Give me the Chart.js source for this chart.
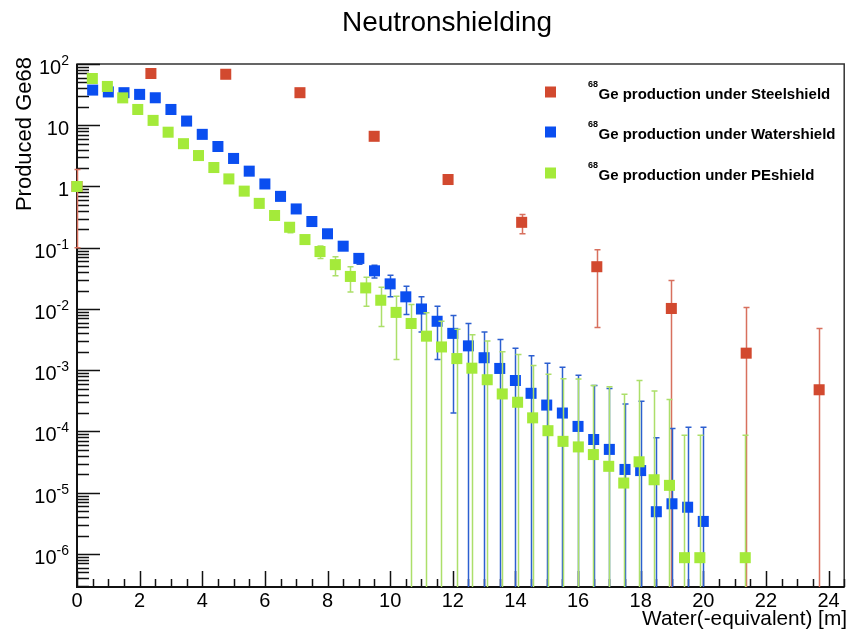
<!DOCTYPE html>
<html>
<head>
<meta charset="utf-8">
<title>Neutronshielding</title>
<script src="https://cdn.jsdelivr.net/npm/chart.js@4.4.1/dist/chart.umd.min.js"></script>
<style>
  html, body { margin: 0; padding: 0; background: #ffffff; }
  #wrap { width: 852px; height: 636px; }
</style>
</head>
<body>
<div id="wrap"><canvas id="chart" width="852" height="636"></canvas></div>
<script>
// ---- Ge-68 production behind the three shield materials ----
const seriesNames = [
  'Ge production under Steelshield',
  'Ge production under Watershield',
  'Ge production under PEshield'
];
const isotopeMass = '68';

// Steel shield
const steelX   = [0, 2.36, 4.75, 7.12, 9.49, 11.85, 14.2, 16.6, 18.98, 21.37, 23.7];
const steelY   = [1, 70, 68, 34, 6.6, 1.3, 0.26, 0.049, 0.0102, 0.0019, 0.00048];
const steelErr = [0.9, 1.5, 1.5, 1.0, 0.4, 0.12, 0.09, 0.044, 0.019, 0.0087, 0.0043];

// Water shield
const waterX = [0.5, 1.0, 1.5, 2.0, 2.5, 3.0, 3.5, 4.0, 4.5, 5.0,
                5.5, 6.0, 6.5, 7.0, 7.5, 8.0, 8.5, 9.0, 9.5, 10.0,
                10.5, 11.0, 11.5, 12.0, 12.5, 13.0, 13.5, 14.0, 14.5, 15.0,
                15.5, 16.0, 16.5, 17.0, 17.5, 18.0, 18.5, 19.0, 19.5, 20.0];
const waterY = [37.5, 35, 34, 31.9, 28.1, 18.1, 11.7, 7.1, 4.5, 2.87,
                1.78, 1.1, 0.69, 0.43, 0.268, 0.169, 0.106, 0.067, 0.042, 0.0257,
                0.0158, 0.0100, 0.0063, 0.0040, 0.0025, 0.0016, 0.00107, 0.00068, 0.00042, 0.00027,
                0.00020, 0.000121, 0.000074, 0.000051, 0.000024, 0.000023, 0.0000049, 0.0000066, 0.0000058, 0.0000034];
const waterErr = [1.0, 1.0, 1.0, 1.0, 0.9, 0.7, 0.5, 0.35, 0.25, 0.17,
                  0.11, 0.07, 0.045, 0.03, 0.02, 0.014, 0.01, 0.013, 0.010, 0.0098,
                  0.0077, 0.0058, 0.0048, 0.0038, 0.0033, 0.0026, 0.0021, 0.0016, 0.0013, 0.00103,
                  0.00092, 0.00071, 0.00049, 0.00045, 0.000256, 0.00029, 0.000074, 0.000105, 0.000111, 0.000114];

// PE shield
const peX = [0, 0.49, 0.97, 1.46, 1.94, 2.43, 2.91, 3.40, 3.88, 4.37,
             4.85, 5.34, 5.82, 6.31, 6.79, 7.28, 7.76, 8.25, 8.73, 9.22,
             9.70, 10.19, 10.67, 11.16, 11.64, 12.13, 12.61, 13.10, 13.58, 14.07,
             14.55, 15.04, 15.52, 16.01, 16.49, 16.98, 17.46, 17.95, 18.43, 18.92,
             19.40, 19.89, 21.34];
const peY = [1.0, 58, 43, 28, 18.1, 12, 7.7, 5.0, 3.2, 2.04,
             1.33, 0.84, 0.53, 0.336, 0.216, 0.136, 0.0867, 0.053, 0.034, 0.0221,
             0.0139, 0.0088, 0.0058, 0.0036, 0.0024, 0.00155, 0.00108, 0.00070, 0.00041, 0.00030,
             0.000167, 0.000103, 0.000069, 0.000056, 0.000042, 0.000027, 0.0000144, 0.000032, 0.0000163, 0.0000132,
             0.00000087, 0.00000087, 0.00000087];
const peErr = [0.05, 1.0, 0.9, 0.7, 0.55, 0.45, 0.35, 0.28, 0.22, 0.17,
               0.13, 0.10, 0.075, 0.055, 0.04, 0.02, 0.02, 0.018, 0.015, 0.011,
               0.0087, 0.0073, 0.006, 0.0051, 0.0039, 0.0031, 0.0027, 0.0023, 0.0016, 0.0015,
               0.00103, 0.00076, 0.00066, 0.00066, 0.00052, 0.00051, 0.00039, 0.00065, 0.00044, 0.00032,
               0.000086, 0.000086, 0.000086];

// Axis ticks and labels
const xTickValues = [0, 2, 4, 6, 8, 10, 12, 14, 16, 18, 20, 22, 24];
const xTickLabels = ['0', '2', '4', '6', '8', '10', '12', '14', '16', '18', '20', '22', '24'];
const yTickValues = [1e-6, 1e-5, 1e-4, 1e-3, 1e-2, 1e-1, 1, 10, 100];
const yTickLabels = [['10', '-6'], ['10', '-5'], ['10', '-4'], ['10', '-3'], ['10', '-2'],
                     ['10', '-1'], ['1', ''], ['10', ''], ['10', '2']];

const FONT = '"Liberation Sans", Arial, Helvetica, sans-serif';
const colors = {
  steel: { mark: '#d2492f', bar: '#d8705e' },
  water: { mark: '#0a4ef0', bar: '#2c5fd0' },
  pe:    { mark: '#a4ea3a', bar: '#acdf6a' }
};

function points(xs, ys) { return xs.map((x, i) => ({ x: x, y: ys[i] })); }

// Vertical error bars with small caps, clipped at the frame
const errorBars = {
  id: 'errorBars',
  beforeDatasetDraw(chart, args) {
    const ds = chart.data.datasets[args.index];
    if (!ds.errors) return;
    const ctx = chart.ctx, xs = chart.scales.x, ys = chart.scales.y, area = chart.chartArea;
    ctx.save();
    ctx.strokeStyle = ds.barColor;
    ctx.lineWidth = 1.5;
    ds.data.forEach((p, i) => {
      const e = ds.errors[i];
      if (!e) return;
      const x = Math.round(xs.getPixelForValue(p.x)) + 0.5;
      let top = ys.getPixelForValue(p.y + e);
      let topCap = true;
      if (top < area.top) { top = area.top; topCap = false; }
      const lo = p.y - e;
      let bottom, botCap = true;
      if (lo <= ys.min) { bottom = area.bottom; botCap = false; }
      else bottom = ys.getPixelForValue(lo);
      ctx.beginPath();
      ctx.moveTo(x, top);
      ctx.lineTo(x, bottom);
      if (topCap) { ctx.moveTo(x - 3, top); ctx.lineTo(x + 3, top); }
      if (botCap) { ctx.moveTo(x - 3, bottom); ctx.lineTo(x + 3, bottom); }
      ctx.stroke();
    });
    ctx.restore();
  }
};

// Frame, inward ticks, tick labels, titles and legend
const frameAndText = {
  id: 'frameAndText',
  beforeDatasetsDraw(chart) {
    const ctx = chart.ctx, xs = chart.scales.x, ys = chart.scales.y, a = chart.chartArea;
    ctx.save();
    // frame
    ctx.strokeStyle = '#333333';
    ctx.lineWidth = 1.5;
    ctx.strokeRect(a.left, a.top, a.right - a.left, a.bottom - a.top);
    ctx.strokeStyle = '#111111';
    ctx.lineWidth = 2;
    ctx.beginPath();
    ctx.moveTo(a.left, a.top); ctx.lineTo(a.left, a.bottom); ctx.lineTo(a.right, a.bottom);
    ctx.stroke();

    // x ticks: majors every 2, minors every 0.5
    ctx.lineWidth = 1.5;
    ctx.strokeStyle = '#111111';
    ctx.beginPath();
    for (let k = 0; k * 0.5 <= xs.max + 1e-9; k++) {
      const v = k * 0.5;
      const px = Math.round(xs.getPixelForValue(v)) + 0.5;
      const len = (k % 4 === 0) ? 16 : 8;
      ctx.moveTo(px, a.bottom);
      ctx.lineTo(px, a.bottom - len);
    }
    // y ticks: decades and 2..9 minors
    for (let d = -7; d <= 2; d++) {
      for (let m = 1; m <= 9; m++) {
        const v = m * Math.pow(10, d);
        if (v < ys.min * 0.999 || v > ys.max * 1.001) continue;
        const py = Math.round(ys.getPixelForValue(v)) + 0.5;
        const len = (m === 1) ? 23 : 12;
        ctx.moveTo(a.left, py);
        ctx.lineTo(a.left + len, py);
      }
    }
    ctx.stroke();

    // x tick labels
    ctx.fillStyle = '#000000';
    ctx.font = '20px ' + FONT;
    ctx.textAlign = 'center';
    ctx.textBaseline = 'alphabetic';
    xTickValues.forEach((v, i) => {
      ctx.fillText(xTickLabels[i], xs.getPixelForValue(v), a.bottom + 20);
    });

    // y tick labels with superscript exponents
    const rightEdge = a.left - 8;
    yTickValues.forEach((v, i) => {
      const [base, sup] = yTickLabels[i];
      const py = ys.getPixelForValue(v);
      ctx.font = '14px ' + FONT;
      const wSup = sup ? ctx.measureText(sup).width : 0;
      ctx.font = '20px ' + FONT;
      const wBase = ctx.measureText(base).width;
      ctx.textAlign = 'left';
      const x0 = rightEdge - wSup - wBase;
      ctx.fillText(base, x0, py + 10);
      if (sup) {
        ctx.font = '14px ' + FONT;
        ctx.fillText(sup, x0 + wBase, py + 1);
      }
    });

    // title
    ctx.textAlign = 'center';
    ctx.font = '28px ' + FONT;
    ctx.fillText('Neutronshielding', 447, 31);

    // axis titles
    ctx.font = '20.8px ' + FONT;
    ctx.textAlign = 'right';
    ctx.fillText('Water(-equivalent) [m]', 847, 625);
    ctx.save();
    ctx.translate(31, 57);
    ctx.rotate(-Math.PI / 2);
    ctx.font = '22px ' + FONT;
    ctx.textAlign = 'right';
    ctx.fillText('Produced Ge68', 0, 0);
    ctx.restore();

    // legend
    const rows = [92, 132, 173];
    chart.data.datasets.forEach((ds, i) => {
      const cy = rows[i];
      ctx.fillStyle = ds.backgroundColor;
      ctx.fillRect(545, cy - 5.5, 11, 11);
      ctx.fillStyle = '#000000';
      ctx.textAlign = 'left';
      ctx.font = 'bold 9px ' + FONT;
      ctx.fillText(isotopeMass, 588, cy - 5);
      const w = ctx.measureText(isotopeMass).width;
      ctx.font = 'bold 15px ' + FONT;
      ctx.fillText(ds.label, 588 + w + 0.5, cy + 7);
    });
    ctx.restore();
  }
};

new Chart(document.getElementById('chart'), {
  type: 'scatter',
  data: {
    datasets: [
      { label: seriesNames[0], data: points(steelX, steelY), errors: steelErr,
        backgroundColor: colors.steel.mark, borderColor: colors.steel.mark, barColor: colors.steel.bar, order: 3 },
      { label: seriesNames[1], data: points(waterX, waterY), errors: waterErr,
        backgroundColor: colors.water.mark, borderColor: colors.water.mark, barColor: colors.water.bar, order: 2 },
      { label: seriesNames[2], data: points(peX, peY), errors: peErr,
        backgroundColor: colors.pe.mark, borderColor: colors.pe.mark, barColor: colors.pe.bar, order: 1 }
    ]
  },
  options: {
    responsive: false,
    animation: false,
    devicePixelRatio: 1,
    layout: { padding: { left: 77, right: 7, top: 64, bottom: 49 } },
    elements: { point: { pointStyle: 'rect', radius: 7.8, borderWidth: 0, hoverRadius: 7.8 } },
    datasets: { scatter: { clip: false } },
    scales: {
      x: { type: 'linear', min: 0, max: 24.5, display: false },
      y: { type: 'logarithmic', min: 2.89e-7, max: 100, display: false }
    },
    plugins: { legend: { display: false }, title: { display: false }, tooltip: { enabled: false } }
  },
  plugins: [frameAndText, errorBars]
});
</script>
</body>
</html>
